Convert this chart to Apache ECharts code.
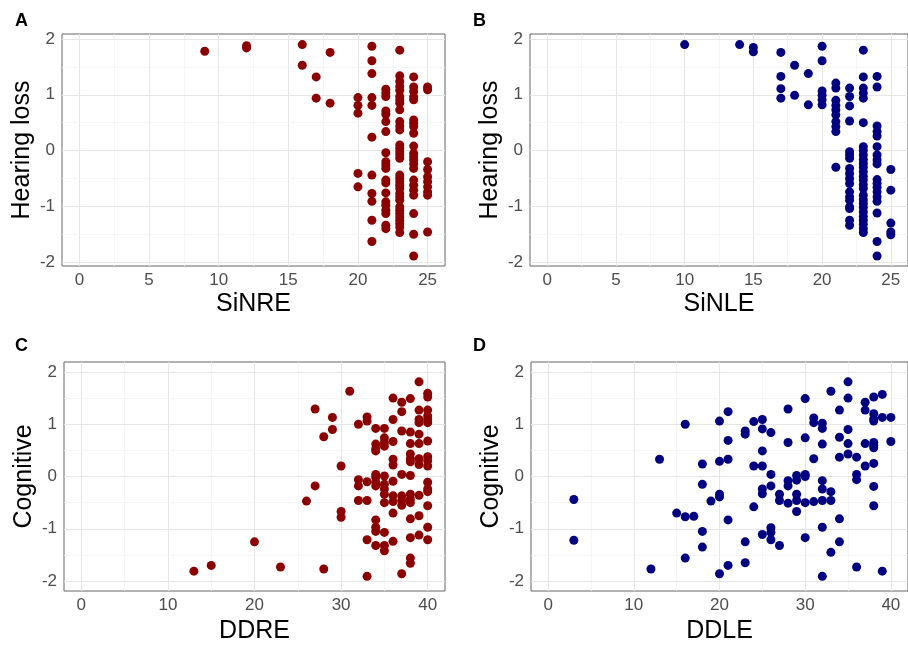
<!DOCTYPE html>
<html>
<head>
<meta charset="utf-8">
<script src="https://cdn.jsdelivr.net/npm/echarts@6/dist/echarts.min.js"></script>
<style>html,body{margin:0;padding:0;background:#fff}#chart{width:908px;height:645px}</style>
</head>
<body>
<div id="chart"></div>
<script>
// ---- Tick breaks ----
const ticksSiN = [0, 5, 10, 15, 20, 25];
const minorSiN = [2.5, 7.5, 12.5, 17.5, 22.5];
const ticksDD = [0, 10, 20, 30, 40];
const minorDD = [5, 15, 25, 35];
const ticksY = [-2, -1, 0, 1, 2];
const minorY = [-1.5, -0.5, 0.5, 1.5];

// ---- Panel A: SiNRE vs Hearing loss ----
const dataA = [[9,1.78],[12,1.88],[12,1.84],[16,1.90],[16,1.53],[17,1.32],[17,0.94],[18,1.76],[18,0.85],
[20,0.95],[20,0.81],[20,0.67],[20,-0.41],[20,-0.65],
[21,1.87],[21,1.61],[21,1.38],[21,0.95],[21,0.81],[21,0.24],[21,-0.44],[21,-0.77],[21,-0.91],[21,-1.25],[21,-1.63],
[22,1.10],[22,1.03],[22,0.97],[22,0.71],[22,0.65],[22,0.52],[22,0.34],[22,-0.04],[22,-0.20],[22,-0.26],[22,-0.32],[22,-0.53],[22,-0.58],[22,-0.76],[22,-0.92],[22,-0.98],[22,-1.07],[22,-1.13],[22,-1.34],[22,-1.40],
[23,1.80],[23,1.34],[23,1.24],[23,1.15],[23,1.08],[23,0.97],[23,0.91],[23,0.85],[23,0.73],[23,0.52],[23,0.44],[23,0.37],[23,0.10],[23,0.04],[23,-0.02],[23,-0.08],[23,-0.14],[23,-0.44],[23,-0.50],[23,-0.56],[23,-0.62],[23,-0.68],[23,-0.77],[23,-0.83],[23,-0.89],[23,-1.01],[23,-1.07],[23,-1.13],[23,-1.19],[23,-1.25],[23,-1.31],[23,-1.37],[23,-1.47],
[24,1.32],[24,1.14],[24,1.06],[24,0.96],[24,0.91],[24,0.55],[24,0.49],[24,0.43],[24,0.31],[24,0.08],[24,-0.05],[24,-0.11],[24,-0.17],[24,-0.24],[24,-0.32],[24,-0.53],[24,-0.62],[24,-0.71],[24,-0.80],[24,-1.13],[24,-1.50],[24,-1.89],
[25,1.14],[25,1.09],[25,-0.20],[25,-0.34],[25,-0.47],[25,-0.56],[25,-0.65],[25,-0.74],[25,-0.80],[25,-1.46]];

// ---- Panel B: SiNLE vs Hearing loss ----
const dataB = [[10,1.90],[14,1.90],[15,1.85],[15,1.77],[17,1.76],[17,1.33],[17,1.11],[17,0.94],[18,1.53],[18,0.99],[19,1.38],[19,0.82],
[20,1.87],[20,1.61],[20,1.07],[20,0.99],[20,0.91],[20,0.82],
[21,1.21],[21,1.12],[21,0.90],[21,0.81],[21,0.73],[21,0.64],[21,0.52],[21,0.43],[21,0.34],[21,-0.30],
[22,1.12],[22,0.97],[22,0.80],[22,0.53],[22,-0.02],[22,-0.08],[22,-0.14],[22,-0.32],[22,-0.41],[22,-0.50],[22,-0.59],[22,-0.74],[22,-0.83],[22,-0.89],[22,-1.01],[22,-1.04],[22,-1.25],[22,-1.34],
[23,1.80],[23,1.32],[23,1.12],[23,1.03],[23,0.94],[23,0.50],[23,0.07],[23,0.00],[23,-0.08],[23,-0.16],[23,-0.23],[23,-0.30],[23,-0.38],[23,-0.46],[23,-0.53],[23,-0.61],[23,-0.68],[23,-0.80],[23,-0.88],[23,-0.95],[23,-1.02],[23,-1.10],[23,-1.18],[23,-1.25],[23,-1.32],[23,-1.40],[23,-1.47],
[24,1.33],[24,1.14],[24,0.44],[24,0.34],[24,0.26],[24,0.07],[24,-0.08],[24,-0.17],[24,-0.24],[24,-0.52],[24,-0.59],[24,-0.66],[24,-0.74],[24,-0.83],[24,-0.91],[24,-1.12],[24,-1.63],[24,-1.89],
[25,-0.34],[25,-0.71],[25,-1.30],[25,-1.46],[25,-1.51]];

// ---- Panel C: DDRE vs Cognitive ----
const dataC = [[13,-1.81],[15,-1.70],[20,-1.25],[23,-1.73],[26,-0.47],[27,1.29],[27,-0.18],[28,0.76],[28,-1.77],[29,1.13],[29,0.90],[30,0.20],[30,-0.67],[30,-0.78],[31,1.63],
[32,1.00],[32,-0.06],[32,-0.18],[32,-0.46],
[33,1.14],[33,1.06],[33,-0.10],[33,-0.46],[33,-1.21],[33,-1.91],
[34,0.92],[34,0.62],[34,0.53],[34,0.49],[34,0.04],[34,-0.02],[34,-0.11],[34,-0.18],[34,-0.83],[34,-0.97],[34,-1.05],[34,-1.32],
[35,0.92],[35,0.74],[35,0.65],[35,0.58],[35,0.01],[35,-0.15],[35,-0.24],[35,-0.34],[35,-0.50],[35,-1.07],[35,-1.32],[35,-1.42],
[36,1.50],[36,1.09],[36,0.67],[36,0.33],[36,0.22],[36,-0.09],[36,-0.37],[36,-0.48],[36,-0.70],[36,-1.24],
[37,1.42],[37,1.24],[37,0.87],[37,0.04],[37,-0.37],[37,-0.46],[37,-0.55],[37,-1.86],
[38,1.49],[38,0.85],[38,0.63],[38,0.43],[38,0.34],[38,0.28],[38,0.02],[38,-0.34],[38,-0.43],[38,-0.50],[38,-0.81],[38,-1.17],[38,-1.56],[38,-1.66],
[39,1.81],[39,1.27],[39,1.09],[39,1.03],[39,0.81],[39,0.63],[39,0.34],[39,0.23],[39,-0.36],[39,-0.75],[39,-1.12],
[40,1.59],[40,1.52],[40,1.27],[40,1.16],[40,1.09],[40,1.03],[40,0.68],[40,0.38],[40,0.30],[40,0.20],[40,-0.11],[40,-0.24],[40,-0.29],[40,-0.56],[40,-0.97],[40,-1.21]];

// ---- Panel D: DDLE vs Cognitive ----
const dataD = [[3,-0.44],[3,-1.22],[12,-1.77],[13,0.33],[15,-0.70],[16,1.00],[16,-0.77],[16,-1.56],[17,-0.76],
[18,0.24],[18,-0.15],[18,-1.05],[18,-1.35],[19,-0.47],
[20,1.06],[20,0.29],[20,-0.34],[20,-0.39],[20,-1.86],
[21,1.24],[21,0.69],[21,0.33],[21,-0.83],[21,-1.70],
[23,0.87],[23,0.81],[23,-1.25],[23,-1.65],
[24,1.05],[24,0.20],[24,-0.58],
[25,1.09],[25,0.91],[25,0.49],[25,0.20],[25,-0.24],[25,-0.33],[25,-1.11],
[26,0.84],[26,0.04],[26,-0.18],[26,-0.98],[26,-1.07],[26,-1.21],
[27,-0.34],[27,-0.46],[27,-1.32],
[28,1.29],[28,0.65],[28,-0.08],[28,-0.18],[28,-0.51],
[29,0.02],[29,-0.07],[29,-0.34],[29,-0.46],[29,-0.67],
[30,1.49],[30,0.74],[30,0.04],[30,0.00],[30,-0.50],[30,-1.17],
[31,1.12],[31,1.03],[31,0.34],[31,-0.48],
[32,1.02],[32,0.92],[32,0.62],[32,-0.08],[32,-0.24],[32,-0.46],[32,-0.97],[32,-1.91],
[33,1.63],[33,-0.29],[33,-0.46],[33,-1.45],
[34,1.27],[34,0.75],[34,0.37],[34,-0.81],[34,-1.25],
[35,1.81],[35,1.50],[35,0.90],[35,0.63],[35,0.43],
[36,0.37],[36,0.04],[36,-0.06],[36,-1.73],
[37,1.42],[37,1.27],[37,0.63],[37,0.20],
[38,1.52],[38,1.20],[38,1.10],[38,1.06],[38,0.65],[38,0.60],[38,0.55],[38,0.25],[38,-0.19],[38,-0.56],
[39,1.57],[39,1.13],[39,-1.81],
[40,1.13],[40,0.67]];

const RED = '#8B0000';
const BLUE = '#000080';
const FONT = 'Liberation Sans, Arial, sans-serif';

const panels = [
  {tag:'A', grid:{left:62, top:34, width:383, height:232}, xr:[-1.25,26.25], yr:[-2.07,2.09], xt:ticksSiN, xm:minorSiN, xName:'SiNRE', yName:'Hearing loss', data:dataA, color:RED, xGap:26, tagPos:[15,12]},
  {tag:'B', grid:{left:530, top:34, width:382, height:232}, xr:[-1.25,26.25], yr:[-2.07,2.09], xt:ticksSiN, xm:minorSiN, xName:'SiNLE', yName:'Hearing loss', data:dataB, color:BLUE, xGap:26, tagPos:[473,12]},
  {tag:'C', grid:{left:64, top:362, width:381, height:230}, xr:[-2,42], yr:[-2.19,2.19], xt:ticksDD, xm:minorDD, xName:'DDRE', yName:'Cognitive', data:dataC, color:RED, xGap:28, tagPos:[15,337]},
  {tag:'D', grid:{left:531, top:362, width:381, height:230}, xr:[-2,42], yr:[-2.19,2.19], xt:ticksDD, xm:minorDD, xName:'DDLE', yName:'Cognitive', data:dataD, color:BLUE, xGap:28, tagPos:[473,337]}
];

const grids = [], xAxes = [], yAxes = [], series = [], titles = [];
panels.forEach((p, i) => {
  grids.push(Object.assign({show:true, borderColor:'#666', borderWidth:1, backgroundColor:'#fff', containLabel:false}, p.grid));
  const isTick = (arr) => (v) => arr.some(t => Math.abs(t - v) < 1e-6) ? String(v) : '';
  xAxes.push({
    gridIndex:i, type:'value', min:p.xr[0], max:p.xr[1],
    axisLine:{show:false},
    axisTick:{show:true, length:4, lineStyle:{color:'#555', width:1}, customValues:p.xt},
    axisLabel:{customValues:p.xt, formatter:isTick(p.xt), color:'#4d4d4d', fontSize:17, fontFamily:FONT, margin:6, showMinLabel:true, showMaxLabel:true},
    splitLine:{show:false}, minorSplitLine:{show:false},
    name:p.xName, nameLocation:'middle', nameGap:p.xGap,
    nameTextStyle:{fontSize:25, color:'#000', fontFamily:FONT}
  });
  yAxes.push({
    gridIndex:i, type:'value', min:p.yr[0], max:p.yr[1],
    axisLine:{show:false},
    axisTick:{show:true, length:4, lineStyle:{color:'#555', width:1}, customValues:ticksY},
    axisLabel:{customValues:ticksY, formatter:isTick(ticksY), color:'#4d4d4d', fontSize:17, fontFamily:FONT, margin:7},
    splitLine:{show:false}, minorSplitLine:{show:false},
    name:p.yName, nameLocation:'middle', nameGap:27, nameRotate:90,
    nameTextStyle:{fontSize:25, color:'#000', fontFamily:FONT}
  });
  const major = {color:'#e6e6e6', width:1.1, type:'solid'};
  const minor = {color:'#f3f3f3', width:0.8, type:'solid'};
  const lines = [];
  p.xt.forEach(v => lines.push({xAxis:v, lineStyle:major}));
  p.xm.forEach(v => lines.push({xAxis:v, lineStyle:minor}));
  ticksY.forEach(v => lines.push({yAxis:v, lineStyle:major}));
  minorY.forEach(v => lines.push({yAxis:v, lineStyle:minor}));
  series.push({
    type:'scatter', xAxisIndex:i, yAxisIndex:i, data:p.data, symbolSize:9, z:10,
    itemStyle:{color:p.color, opacity:1},
    markLine:{silent:true, symbol:['none','none'], z:1, label:{show:false}, animation:false, emphasis:{disabled:true}, data:lines}
  });
  titles.push({text:p.tag, left:p.tagPos[0], top:p.tagPos[1], padding:0, textStyle:{fontSize:18, fontWeight:'bold', color:'#000', fontFamily:FONT}});
});

const chart = echarts.init(document.getElementById('chart'), null, {renderer:'canvas'});
chart.setOption({animation:false, backgroundColor:'#fff', title:titles, grid:grids, xAxis:xAxes, yAxis:yAxes, series:series});
</script>
</body>
</html>
